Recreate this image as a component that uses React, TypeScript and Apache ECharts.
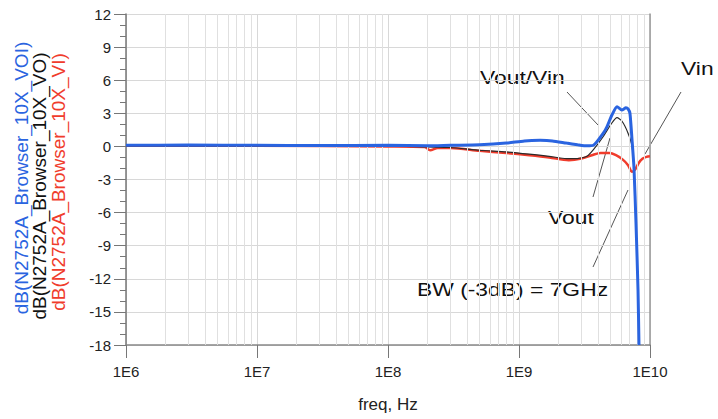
import React, { useEffect, useRef } from "react";
import * as echarts from "echarts";

// ---- data ----
const freqVOI = [1e6, 3e6, 1e7, 3e7, 1e8, 2e8, 3e8, 5e8, 8e8, 1.1e9, 1.45e9, 1.8e9, 2.3e9, 2.8e9, 3.3e9, 3.7e9, 4.4e9, 4.7e9, 5.1e9, 5.6e9, 6.1e9, 6.55e9, 6.8e9, 7.03e9, 7.29e9, 7.55e9, 7.82e9, 8.1e9, 8.24e9];
const dbVOI = [0.1, 0.12, 0.1, 0.08, 0.1, 0.05, 0.1, 0.15, 0.3, 0.5, 0.55, 0.5, 0.3, 0.15, 0.05, 0.1, 1.2, 1.8, 2.8, 3.6, 3.3, 3.5, 3.4, 3.0, 0.6, -2.0, -7, -13, -18];

const freqVO = [1e6, 1e8, 2e8, 3e8, 5e8, 8e8, 1.2e9, 1.7e9, 2.3e9, 2.8e9, 3.3e9, 3.7e9, 4.4e9, 5.1e9, 5.6e9, 6.1e9, 6.8e9, 7.3e9, 7.55e9, 7.82e9, 8.1e9, 8.24e9];
const dbVO = [0.05, 0.05, -0.05, -0.1, -0.35, -0.5, -0.7, -0.9, -1.1, -1.1, -0.9, -0.3, 0.9, 2.1, 2.6, 2.3, 1.2, 0, -2.2, -7, -13, -18];

const freqVI = [1e6, 1e7, 1e8, 1.9e8, 2.1e8, 2.4e8, 3e8, 5e8, 8e8, 1.2e9, 1.7e9, 2.4e9, 3.0e9, 3.6e9, 4.2e9, 4.9e9, 5.5e9, 6.2e9, 6.8e9, 7.3e9, 7.7e9, 8.2e9, 8.8e9, 9.4e9, 1e10];
const dbVI = [0.05, 0.05, 0, -0.05, -0.35, -0.15, -0.15, -0.4, -0.6, -0.8, -1.0, -1.25, -1.1, -0.8, -0.6, -0.6, -0.8, -1.2, -1.7, -2.3, -2.1, -1.5, -1.1, -0.95, -0.9];

const seriesNames = ["dB(N2752A_Browser_10X_VOI)", "dB(N2752A_Browser_10X_VO)", "dB(N2752A_Browser_10X_VI)"];
const minorGridFreqs = [2, 3, 4, 5, 6, 7, 8, 9].flatMap((m) => [1e6, 1e7, 1e8, 1e9].map((d) => m * d));
const yTicks = { min: -18, max: 12, interval: 3 };

const BLUE = "#2a64e0";
const RED = "#f03c2c";
const BLACK = "#2a2a2a";
const FONT = "Liberation Sans, Arial, sans-serif";

const zip = (xs: number[], ys: number[]) => xs.map((x, i) => [x, ys[i]]);

export default function App() {
  const ref = useRef<HTMLDivElement>(null);
  useEffect(() => {
    if (!ref.current) return;
    const chart = echarts.init(ref.current, null, { renderer: "svg" });
    const annText = (text: string, x: number, y: number) => ({
      type: "text",
      x,
      y,
      scaleX: 1.27,
      style: { text, fill: "#111", font: `18px ${FONT}`, textAlign: "left", textVerticalAlign: "middle" },
    });
    const annLine = (x1: number, y1: number, x2: number, y2: number) => ({
      type: "line",
      shape: { x1, y1, x2, y2 },
      style: { stroke: "#555", lineWidth: 1 },
    });
    const legendText = (text: string, x: number, y: number, color: string) => ({
      type: "text",
      x,
      y,
      rotation: Math.PI / 2,
      style: { text, fill: color, font: `19px ${FONT}`, textAlign: "center", textVerticalAlign: "middle" },
    });
    chart.setOption({
      animation: false,
      backgroundColor: "#fff",
      grid: { left: 126, right: 68, top: 14, bottom: 74 },
      xAxis: {
        type: "log",
        logBase: 10,
        min: 1e6,
        max: 1e10,
        axisLine: { show: true, onZero: false, lineStyle: { color: "#888", width: 1.5 } },
        axisTick: { show: true, length: 13, lineStyle: { color: "#777" } },
        axisLabel: {
          margin: 19,
          fontSize: 15,
          color: "#222",
          fontFamily: FONT,
          formatter: (v: number) => "1E" + Math.round(Math.log10(v)),
        },
        splitLine: { show: true, lineStyle: { color: "#d8d8d8", width: 1 } },
        name: "freq, Hz",
        nameLocation: "middle",
        nameGap: 51,
        nameTextStyle: { fontSize: 17, color: "#222", fontFamily: FONT },
      },
      yAxis: [
        {
          type: "value",
          min: yTicks.min,
          max: yTicks.max,
          interval: yTicks.interval,
          axisLine: { show: true, lineStyle: { color: "#777", width: 1.5 } },
          axisTick: { show: true, length: 12, lineStyle: { color: "#777" } },
          minorTick: { show: true, splitNumber: 3, length: 6, lineStyle: { color: "#777" } },
          axisLabel: { margin: 15, fontSize: 15, color: "#222", fontFamily: FONT },
          splitLine: { show: true, lineStyle: { color: "#d8d8d8", width: 1 } },
        },
        {
          type: "value",
          position: "right",
          min: yTicks.min,
          max: yTicks.max,
          interval: yTicks.interval,
          axisLine: { show: true, lineStyle: { color: "#999", width: 1.5 } },
          axisTick: { show: false },
          axisLabel: { show: false },
          splitLine: { show: false },
        },
      ],
      series: [
        {
          type: "line",
          data: [],
          z: 1,
          silent: true,
          markLine: {
            silent: true,
            symbol: ["none", "none"],
            label: { show: false },
            lineStyle: { type: "solid", color: "#e0e0e0", width: 1 },
            data: minorGridFreqs.map((f) => ({ xAxis: f })),
          },
        },
        {
          name: seriesNames[2],
          type: "line",
          data: zip(freqVI, dbVI),
          showSymbol: false,
          smooth: 0.3,
          lineStyle: { color: RED, width: 2.5 },
          z: 3,
        },
        {
          name: seriesNames[1],
          type: "line",
          data: zip(freqVO, dbVO),
          showSymbol: false,
          smooth: 0.2,
          lineStyle: { color: BLACK, width: 1.2 },
          z: 4,
        },
        {
          name: seriesNames[0],
          type: "line",
          data: zip(freqVOI, dbVOI),
          showSymbol: false,
          smooth: 0.2,
          lineStyle: { color: BLUE, width: 3 },
          z: 5,
        },
      ],
      graphic: [
        legendText(seriesNames[0], 21, 178, BLUE),
        legendText(seriesNames[1], 39, 186, "#111"),
        legendText(seriesNames[2], 58, 182, RED),
        annText("Vout/Vin", 480, 77),
        annText("Vin", 681, 68),
        annText("Vout", 548, 217),
        annText("BW (-3dB) = 7GHz", 417, 289),
        annLine(567, 92, 598, 125),
        annLine(681, 92, 645, 154),
        annLine(593, 197, 610, 138),
        annLine(593, 267, 628, 190),
      ],
    });
    return () => chart.dispose();
  }, []);
  return <div ref={ref} style={{ position: "fixed", left: 0, top: 0, width: 718, height: 419 }} />;
}
